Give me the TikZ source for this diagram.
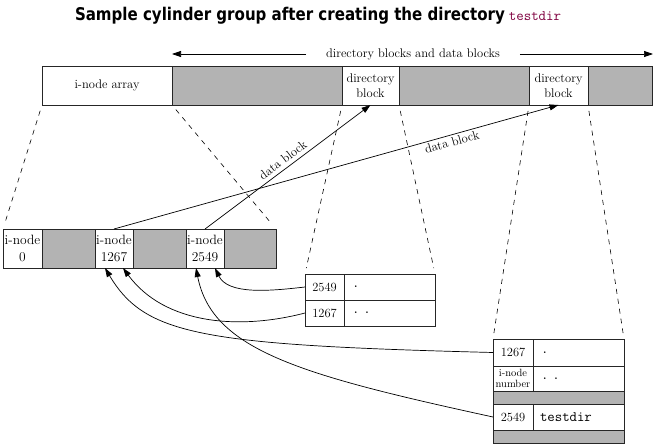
\documentclass[tikz,border=0pt]{standalone}
\usepackage{fontspec}
\newfontfamily\titlefont{DejaVu Sans}[FakeStretch=0.86]
\usetikzlibrary{arrows.meta,calc}
\definecolor{cellgray}{RGB}{179,179,179}
\definecolor{ttred}{RGB}{128,0,64}
\begin{document}
\begin{tikzpicture}[x=1pt,y=-1pt,
  every node/.style={inner sep=0pt, outer sep=0pt},
  wh/.style 2 args={minimum width=#1pt, minimum height=#2pt},
  lab/.style={font=\fontsize{12.5}{15.5}\selectfont, align=center},
  cell/.style={draw=black!85, line width=0.8pt, anchor=north west, lab},
  gcell/.style={cell, fill=cellgray},
  icell/.style={cell, font=\fontsize{13.5}{16.5}\selectfont},
  lcell/.style={cell, font=\ttfamily\fontsize{14.4}{16}\selectfont, text width=75pt, inner xsep=8pt, align=left},
  arr/.style={-{Triangle[length=9pt,width=6pt]}, line width=0.7pt},
  dashline/.style={dash pattern=on 5pt off 5pt, line width=0.6pt, shorten <=6pt, shorten >=6pt}
]
\fill[white] (0,0) rectangle (657,447);

% title
\node[anchor=base west, font={\titlefont\bfseries\fontsize{17.5}{21}\selectfont}] (title) at (75,20.7)
  {Sample cylinder group after creating the directory\kern4pt {\fontsize{14.5}{16}\selectfont\ttfamily\mdseries\color{ttred}testdir}};

% top bar
\node[cell, wh={130}{39}] (arr) at (42,66) {i-node array};
\node[gcell, wh={170}{39}] (gb1) at (172,66) {};
\node[cell, wh={57}{39}] (dir1) at (342,66) {directory\\block};
\node[gcell, wh={130}{39}] (gb2) at (399,66) {};
\node[cell, wh={59}{39}] (dir2) at (529,66) {directory\\block};
\node[gcell, wh={64}{39}] (gb3) at (588,66) {};

% top arrow
\node[lab] (dbl) at (413,54) {directory blocks and data blocks};
\coordinate (arrL) at (172,54);
\coordinate (arrR) at (653,54);
\draw[arr, shorten <=20pt] (dbl.west) -- (arrL);
\draw[arr, shorten <=20pt] (dbl.east) -- (arrR);

% i-node row
\node[icell, wh={39}{39}] (n0) at (3,229) {i-node\\0};
\node[gcell, wh={53}{39}] (g1) at (42,229) {};
\node[icell, wh={38}{39}] (n1267) at (95,229) {i-node\\1267};
\node[gcell, wh={53}{39}] (g2) at (133,229) {};
\node[icell, wh={38}{39}] (n2549) at (186,229) {i-node\\2549};
\node[gcell, wh={52}{39}] (g3) at (224,229) {};

% table 1
\node[cell, wh={39}{26}] (t1a) at (305,274) {2549};
\node[lcell, wh={91}{26}] (t1b) at (344,274) {.};
\node[cell, wh={39}{26}] (t1c) at (305,300) {1267};
\node[lcell, wh={91}{26}] (t1d) at (344,300) {.\kern4pt.};

% table 2
\node[cell, wh={40}{27}] (t2a) at (493,339) {1267};
\node[lcell, wh={91}{27}] (t2b) at (533,339) {.};
\node[cell, wh={40}{25}, font=\fontsize{10.5}{11.5}\selectfont] (t2c) at (493,366) {i-node\\number};
\node[lcell, wh={91}{25}] (t2d) at (533,366) {.\kern4pt.};
\node[gcell, wh={131}{13}] (t2g1) at (493,391) {};
\node[cell, wh={40}{26}] (t2e) at (493,404) {2549};
\node[lcell, wh={91}{26}, inner xsep=7pt, text width=77pt] (t2f) at (533,404) {testdir};
\node[gcell, wh={131}{13}] (t2g2) at (493,430) {};

% dashed expansion lines
\draw[dashline] (arr.south west) -- (n0.north west);
\draw[dashline] (arr.south east) -- (g3.north east);
\draw[dashline] (dir1.south west) -- (t1a.north west);
\draw[dashline] (dir1.south east) -- (t1b.north east);
\draw[dashline] (dir2.south west) -- (t2a.north west);
\draw[dashline] (dir2.south east) -- (t2b.north east);

% data block arrows
\draw[arr] (n2549.north) -- node[pos=0.5, above=4pt, sloped, lab] {data block} (dir1.south);
\draw[arr] (n1267.north) -- node[pos=0.756, below=2.5pt, sloped, lab] {data block} (dir2.south);

% i-node number arrows
\draw[arr] (t1a.west) .. controls (270,291) and (228,295) .. ([xshift=10pt]n2549.south);
\draw[arr] (t1c.west) .. controls (240,330) and (165,325) .. ([xshift=9pt]n1267.south);
\draw[arr] (t2a.west) .. controls (200,345) and (145,335) .. ([xshift=-9pt]n1267.south);
\draw[arr] (t2e.west) .. controls (300,375) and (212,350) .. ([xshift=-9pt]n2549.south);
\end{tikzpicture}
\end{document}
